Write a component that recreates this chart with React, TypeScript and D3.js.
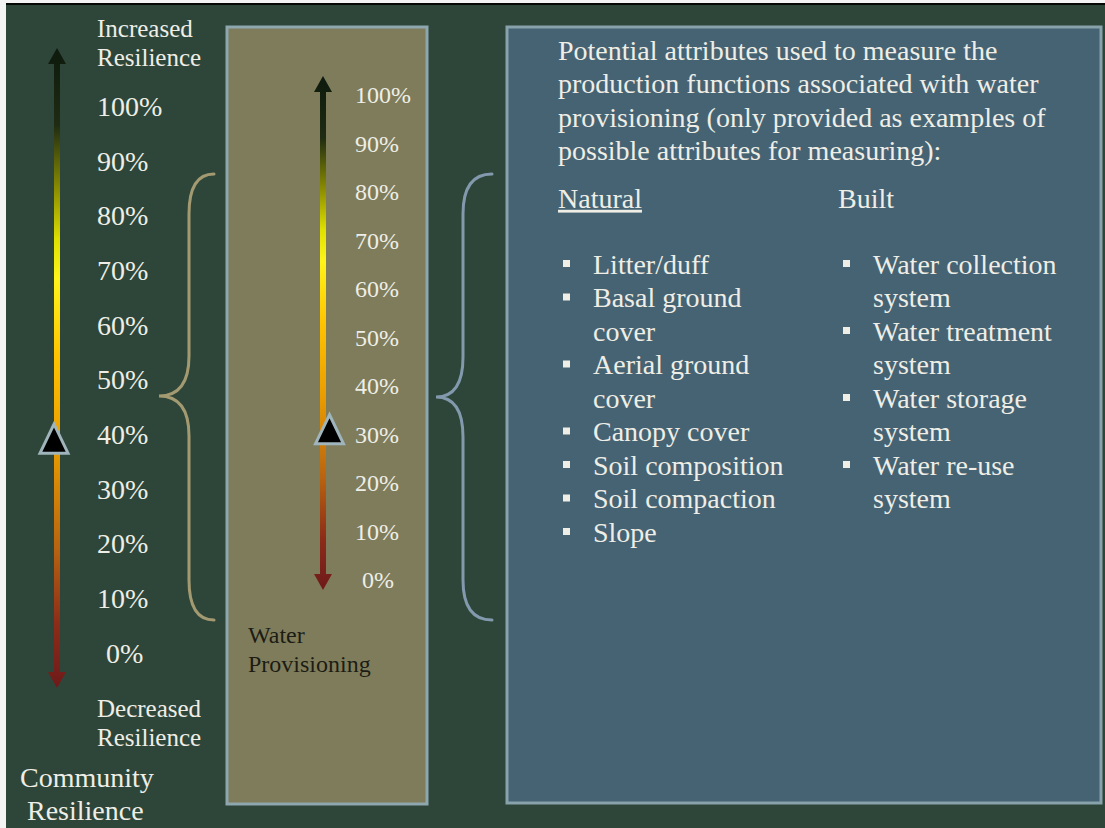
import React from "react";
import * as d3 from "d3";

// ---------- data ----------
const leftTicks = [100, 90, 80, 70, 60, 50, 40, 30, 20, 10, 0];
const middleTicks = [100, 90, 80, 70, 60, 50, 40, 30, 20, 10, 0];
const leftMarkerValue = 40;
const middleMarkerValue = 32;
const leftTopLabel = ["Increased", "Resilience"];
const leftBottomLabel = ["Decreased", "Resilience"];
const leftTitle = ["Community", "Resilience"];
const middleTitle = ["Water", "Provisioning"];
const headerLines = [
  "Potential attributes used to measure the",
  "production functions associated with water",
  "provisioning (only provided as examples of",
  "possible attributes for measuring):",
];
const naturalHeading = "Natural";
const builtHeading = "Built";
const naturalItems = [
  ["Litter/duff"],
  ["Basal ground", "cover"],
  ["Aerial ground", "cover"],
  ["Canopy cover"],
  ["Soil composition"],
  ["Soil compaction"],
  ["Slope"],
];
const builtItems = [
  ["Water collection", "system"],
  ["Water treatment", "system"],
  ["Water storage", "system"],
  ["Water re-use", "system"],
];
const gradientStops: [number, string][] = [
  [0, "#0d1a0d"],
  [0.12, "#1f2b12"],
  [0.22, "#8a8c00"],
  [0.3, "#e0e000"],
  [0.36, "#fff41a"],
  [0.48, "#ffc400"],
  [0.63, "#e89a00"],
  [0.78, "#b86410"],
  [0.9, "#8c2c18"],
  [1, "#6e1a1a"],
];

const FONT = "'Liberation Serif', 'Times New Roman', serif";
const TEXT = "#eeeee6";

function Brace({ ex, vx, px, y0, ym, y1, color }: any) {
  const r = 40;
  const p = d3.path();
  p.moveTo(ex, y0);
  p.quadraticCurveTo(vx, y0, vx, y0 + r);
  p.lineTo(vx, ym - r);
  p.quadraticCurveTo(vx, ym, px, ym);
  p.quadraticCurveTo(vx, ym, vx, ym + r);
  p.lineTo(vx, y1 - r);
  p.quadraticCurveTo(vx, y1, ex, y1);
  return <path d={p.toString()} fill="none" stroke={color} strokeWidth={3} strokeLinecap="round" />;
}

function GradArrow({ id, x, yTop, yBot }: any) {
  const hw = 9;
  const hh = 16;
  return (
    <g>
      <defs>
        <linearGradient id={id} gradientUnits="userSpaceOnUse" x1={0} x2={0} y1={yTop} y2={yBot}>
          {gradientStops.map(([o, c], i) => (
            <stop key={i} offset={o} stopColor={c} />
          ))}
        </linearGradient>
      </defs>
      <rect x={x - 3} y={yTop + hh - 2} width={6} height={yBot - yTop - 2 * hh + 4} fill={`url(#${id})`} />
      <polygon points={`${x},${yTop} ${x - hw},${yTop + hh} ${x + hw},${yTop + hh}`} fill={`url(#${id})`} />
      <polygon points={`${x},${yBot} ${x - hw},${yBot - hh} ${x + hw},${yBot - hh}`} fill={`url(#${id})`} />
    </g>
  );
}

function Marker({ cx, cy }: any) {
  return (
    <polygon
      points={`${cx},${cy - 10} ${cx - 14},${cy + 19} ${cx + 14},${cy + 19}`}
      fill="#000"
      stroke="#9fb4bb"
      strokeWidth={3}
      strokeLinejoin="miter"
    />
  );
}

export default function App() {
  const yLeft = d3.scaleLinear().domain([0, 100]).range([653, 106]);
  const yMid = d3.scaleLinear().domain([0, 100]).range([580, 95]);
  const fmt = (v: number) => `${v}%`;

  const lineH = 33.5;
  const listTop = 264;
  let nRow = 0;
  const naturalRows: { text: string; row: number; bullet: boolean }[] = [];
  naturalItems.forEach((item) => {
    item.forEach((t, j) => {
      naturalRows.push({ text: t, row: nRow, bullet: j === 0 });
      nRow++;
    });
  });
  let bRow = 0;
  const builtRows: { text: string; row: number; bullet: boolean }[] = [];
  builtItems.forEach((item) => {
    item.forEach((t, j) => {
      builtRows.push({ text: t, row: bRow, bullet: j === 0 });
      bRow++;
    });
  });

  return (
    <svg
      width={1105}
      height={828}
      style={{ position: "absolute", left: 0, top: 0, display: "block" }}
      fontFamily={FONT}
    >
      <rect x={0} y={0} width={1105} height={828} fill="#f4f4f4" />
      <rect x={6} y={3} width={1099} height={825} fill="#2e4639" />
      <rect x={6} y={3} width={1099} height={2} fill="#050805" />

      {/* middle panel */}
      <rect x={227} y={27} width={200} height={777} fill="#7f7c5c" stroke="#8ea6ad" strokeWidth={3} />
      {/* right panel */}
      <rect x={507} y={27} width={594} height={776} fill="#466373" stroke="#87a2ab" strokeWidth={3} />

      {/* left scale */}
      <GradArrow id="gl" x={57} yTop={48} yBot={688} />
      {leftTopLabel.map((t, i) => (
        <text key={t + i} x={97} y={28 + i * 29} dy="0.35em" fontSize={25} fill={TEXT}>
          {t}
        </text>
      ))}
      {leftTicks.map((v) => (
        <text key={v} x={v === 0 ? 106 : 97} y={yLeft(v)} dy="0.35em" fontSize={28} fill={TEXT}>
          {fmt(v)}
        </text>
      ))}
      {leftBottomLabel.map((t, i) => (
        <text key={t + i} x={97} y={708 + i * 29} dy="0.35em" fontSize={25} fill={TEXT}>
          {t}
        </text>
      ))}
      <text x={20} y={777} dy="0.35em" fontSize={28} fill={TEXT}>
        {leftTitle[0]}
      </text>
      <text x={27} y={810} dy="0.35em" fontSize={28} fill={TEXT}>
        {leftTitle[1]}
      </text>
      <Marker cx={54} cy={yLeft(leftMarkerValue)} />
      <Brace ex={214} vx={189} px={159} y0={174} ym={396} y1={620} color="#a39a72" />

      {/* middle scale */}
      <GradArrow id="gm" x={323} yTop={76} yBot={590} />
      {middleTicks.map((v) => (
        <text key={v} x={v === 0 ? 362 : 355} y={yMid(v)} dy="0.35em" fontSize={24} fill={TEXT}>
          {fmt(v)}
        </text>
      ))}
      <Marker cx={329.5} cy={yMid(middleMarkerValue)} />
      {middleTitle.map((t, i) => (
        <text key={t} x={248} y={635 + i * 29} dy="0.35em" fontSize={24} fill="#1c1c14">
          {t}
        </text>
      ))}
      <Brace ex={492} vx={463} px={436} y0={174} ym={397} y1={620} color="#8399ad" />

      {/* right panel text */}
      {headerLines.map((t, i) => (
        <text key={i} x={558} y={50 + i * 33.5} dy="0.35em" fontSize={28} fill={TEXT}>
          {t}
        </text>
      ))}
      <text x={558} y={198} dy="0.35em" fontSize={28} fill={TEXT} textDecoration="underline">
        {naturalHeading}
      </text>
      <text x={838} y={198} dy="0.35em" fontSize={28} fill={TEXT}>
        {builtHeading}
      </text>
      {naturalRows.map((r, i) => (
        <g key={"n" + i}>
          {r.bullet && <rect x={563} y={listTop + r.row * lineH - 4} width={7} height={7} fill={TEXT} />}
          <text x={593} y={listTop + r.row * lineH} dy="0.35em" fontSize={28} fill={TEXT}>
            {r.text}
          </text>
        </g>
      ))}
      {builtRows.map((r, i) => (
        <g key={"b" + i}>
          {r.bullet && <rect x={843} y={listTop + r.row * lineH - 4} width={7} height={7} fill={TEXT} />}
          <text x={873} y={listTop + r.row * lineH} dy="0.35em" fontSize={28} fill={TEXT}>
            {r.text}
          </text>
        </g>
      ))}
    </svg>
  );
}
